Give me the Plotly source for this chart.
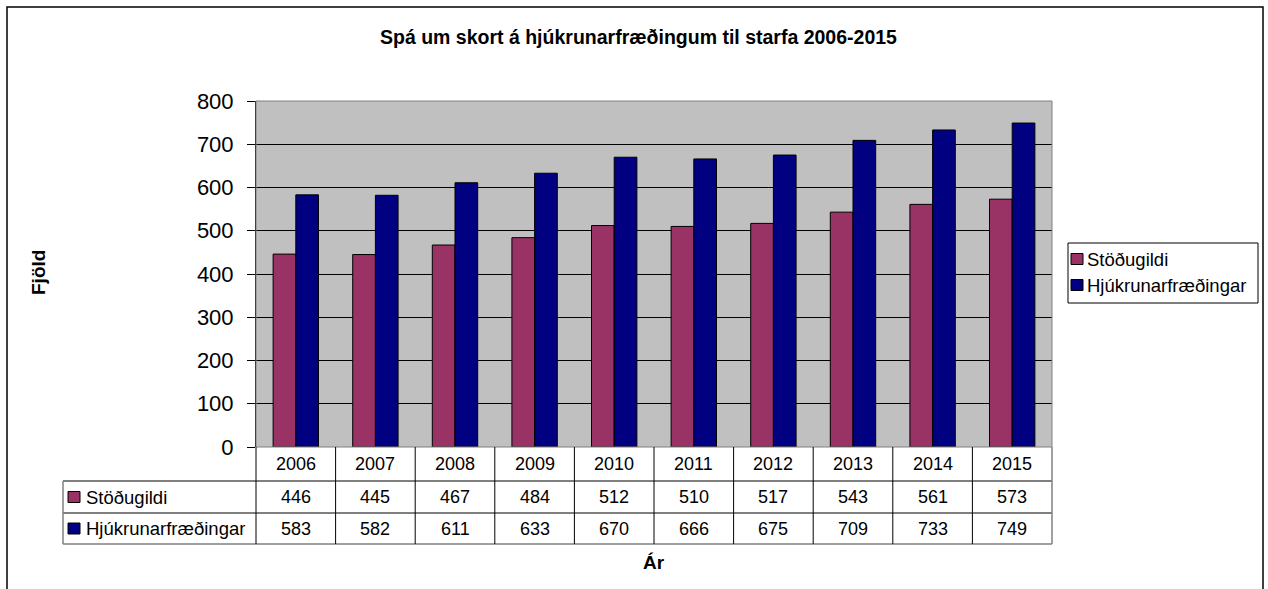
import plotly.graph_objects as go

years = ["2006", "2007", "2008", "2009", "2010", "2011", "2012", "2013", "2014", "2015"]
stodugildi = [446, 445, 467, 484, 512, 510, 517, 543, 561, 573]
hjukrun = [583, 582, 611, 633, 670, 666, 675, 709, 733, 749]
series_names = ["Stöðugildi", "Hjúkrunarfræðingar"]
series_colors = ["#993366", "#000080"]
series_values = [stodugildi, hjukrun]

title = "Spá um skort á hjúkrunarfræðingum til starfa 2006-2015"
ytitle = "Fjöld"
xtitle = "Ár"

W, H = 1268, 589
L, R, T, B = 256, 1052, 101, 447   # plot area in px
pw, ph = R - L, B - T

def px(x):
    return (x - L) / pw

def py(y):
    return (B - y) / ph

FONT = "Liberation Sans, Arial, sans-serif"

fig = go.Figure()
for name, col, vals in zip(series_names, series_colors, series_values):
    fig.add_trace(go.Bar(x=years, y=vals, name=name, hoverinfo="skip",
                         marker=dict(color=col, line=dict(color="black", width=1))))

shapes = []
annotations = []

def txt(x, y, text, size, xref="paper", xanchor="center", angle=0):
    annotations.append(dict(x=x, xref=xref, y=y, yref="paper", text=text, showarrow=False,
                            xanchor=xanchor, yanchor="middle", textangle=angle,
                            font=dict(size=size, color="black", family=FONT)))

# plot area border
shapes.append(dict(type="rect", xref="paper", yref="paper", x0=0, x1=1, y0=0, y1=1,
                   line=dict(color="#808080", width=1), layer="above"))
# outer chart border
shapes.append(dict(type="rect", xref="paper", yref="paper", x0=px(7), x1=px(1263), y0=py(640), y1=py(7),
                   line=dict(color="black", width=1.5)))

# data table
row_tops = [447, 481, 513, 544]
tbl_left = 63
n = len(years)
shapes.append(dict(type="line", xref="paper", yref="paper", x0=px(tbl_left), x1=1, y0=py(481), y1=py(481),
                   line=dict(color="black", width=1)))
shapes.append(dict(type="line", xref="paper", yref="paper", x0=px(tbl_left), x1=1, y0=py(513), y1=py(513),
                   line=dict(color="black", width=1)))
shapes.append(dict(type="line", xref="paper", yref="paper", x0=px(tbl_left), x1=1, y0=py(544), y1=py(544),
                   line=dict(color="#808080", width=1.5)))
shapes.append(dict(type="line", xref="paper", yref="paper", x0=px(tbl_left), x1=px(tbl_left), y0=py(481), y1=py(544),
                   line=dict(color="#808080", width=1.5)))
shapes.append(dict(type="line", xref="paper", yref="paper", x0=0, x1=0, y0=py(447), y1=py(544),
                   line=dict(color="black", width=1)))
for i in range(1, n):
    shapes.append(dict(type="line", xref="x", yref="paper", x0=i - 0.5, x1=i - 0.5, y0=py(447), y1=py(544),
                       line=dict(color="black", width=1)))
shapes.append(dict(type="line", xref="paper", yref="paper", x0=1, x1=1, y0=py(447), y1=py(544),
                   line=dict(color="#808080", width=1.5)))

row_centers = [(row_tops[k] + row_tops[k + 1]) / 2 for k in range(3)]
for i, yr in enumerate(years):
    txt(i, py(row_centers[0]), yr, 18, xref="x")
    for k, vals in enumerate(series_values):
        txt(i, py(row_centers[k + 1]), str(vals[i]), 18, xref="x")

# table row labels with keys
for k, (name, col) in enumerate(zip(series_names, series_colors)):
    yc = row_centers[k + 1]
    shapes.append(dict(type="rect", xref="paper", yref="paper", x0=px(68), x1=px(80), y0=py(yc + 5.5), y1=py(yc - 5.5),
                       fillcolor=col, line=dict(color="black", width=1)))
    txt(px(84), py(yc), name, 18.5, xanchor="left")

# legend (right)
shapes.append(dict(type="rect", xref="paper", yref="paper", x0=px(1068), x1=px(1258), y0=py(303), y1=py(243),
                   line=dict(color="black", width=1), fillcolor="white"))
leg_rows = [259, 285]
for k, (name, col) in enumerate(zip(series_names, series_colors)):
    yc = leg_rows[k]
    shapes.append(dict(type="rect", xref="paper", yref="paper", x0=px(1071), x1=px(1083), y0=py(yc + 5.5), y1=py(yc - 5.5),
                       fillcolor=col, line=dict(color="black", width=1)))
    txt(px(1085), py(yc), name, 18.5, xanchor="left")

# titles
txt(px(638), py(37), "<b>" + title + "</b>", 19.5)
txt(px(38), py(272), "<b>" + ytitle + "</b>", 19, angle=-90)
txt(px(654), py(562), "<b>" + xtitle + "</b>", 19)

fig.update_layout(
    width=W, height=H,
    margin=dict(l=L, r=W - R, t=T, b=H - B, pad=0),
    paper_bgcolor="white", plot_bgcolor="#C0C0C0",
    barmode="group", bargap=0.43, bargroupgap=0,
    showlegend=False,
    font=dict(family=FONT, color="black"),
    shapes=shapes, annotations=annotations,
)
fig.update_xaxes(type="category", showticklabels=False, ticks="", showgrid=False, zeroline=False, showline=False,
                 range=[-0.5, n - 0.5], fixedrange=True)
fig.update_yaxes(range=[0, 800], dtick=100, tick0=0, showgrid=True, gridcolor="black", gridwidth=1,
                 zeroline=False, showline=True, linecolor="black", linewidth=1, fixedrange=True,
                 ticks="outside", ticklen=8, tickcolor="black", tickfont=dict(size=22, family=FONT, color="black"),
                 ticklabelstandoff=9)

fig.write_html("out.html", config={"displayModeBar": False},
               post_script="document.body.style.margin='0';")
